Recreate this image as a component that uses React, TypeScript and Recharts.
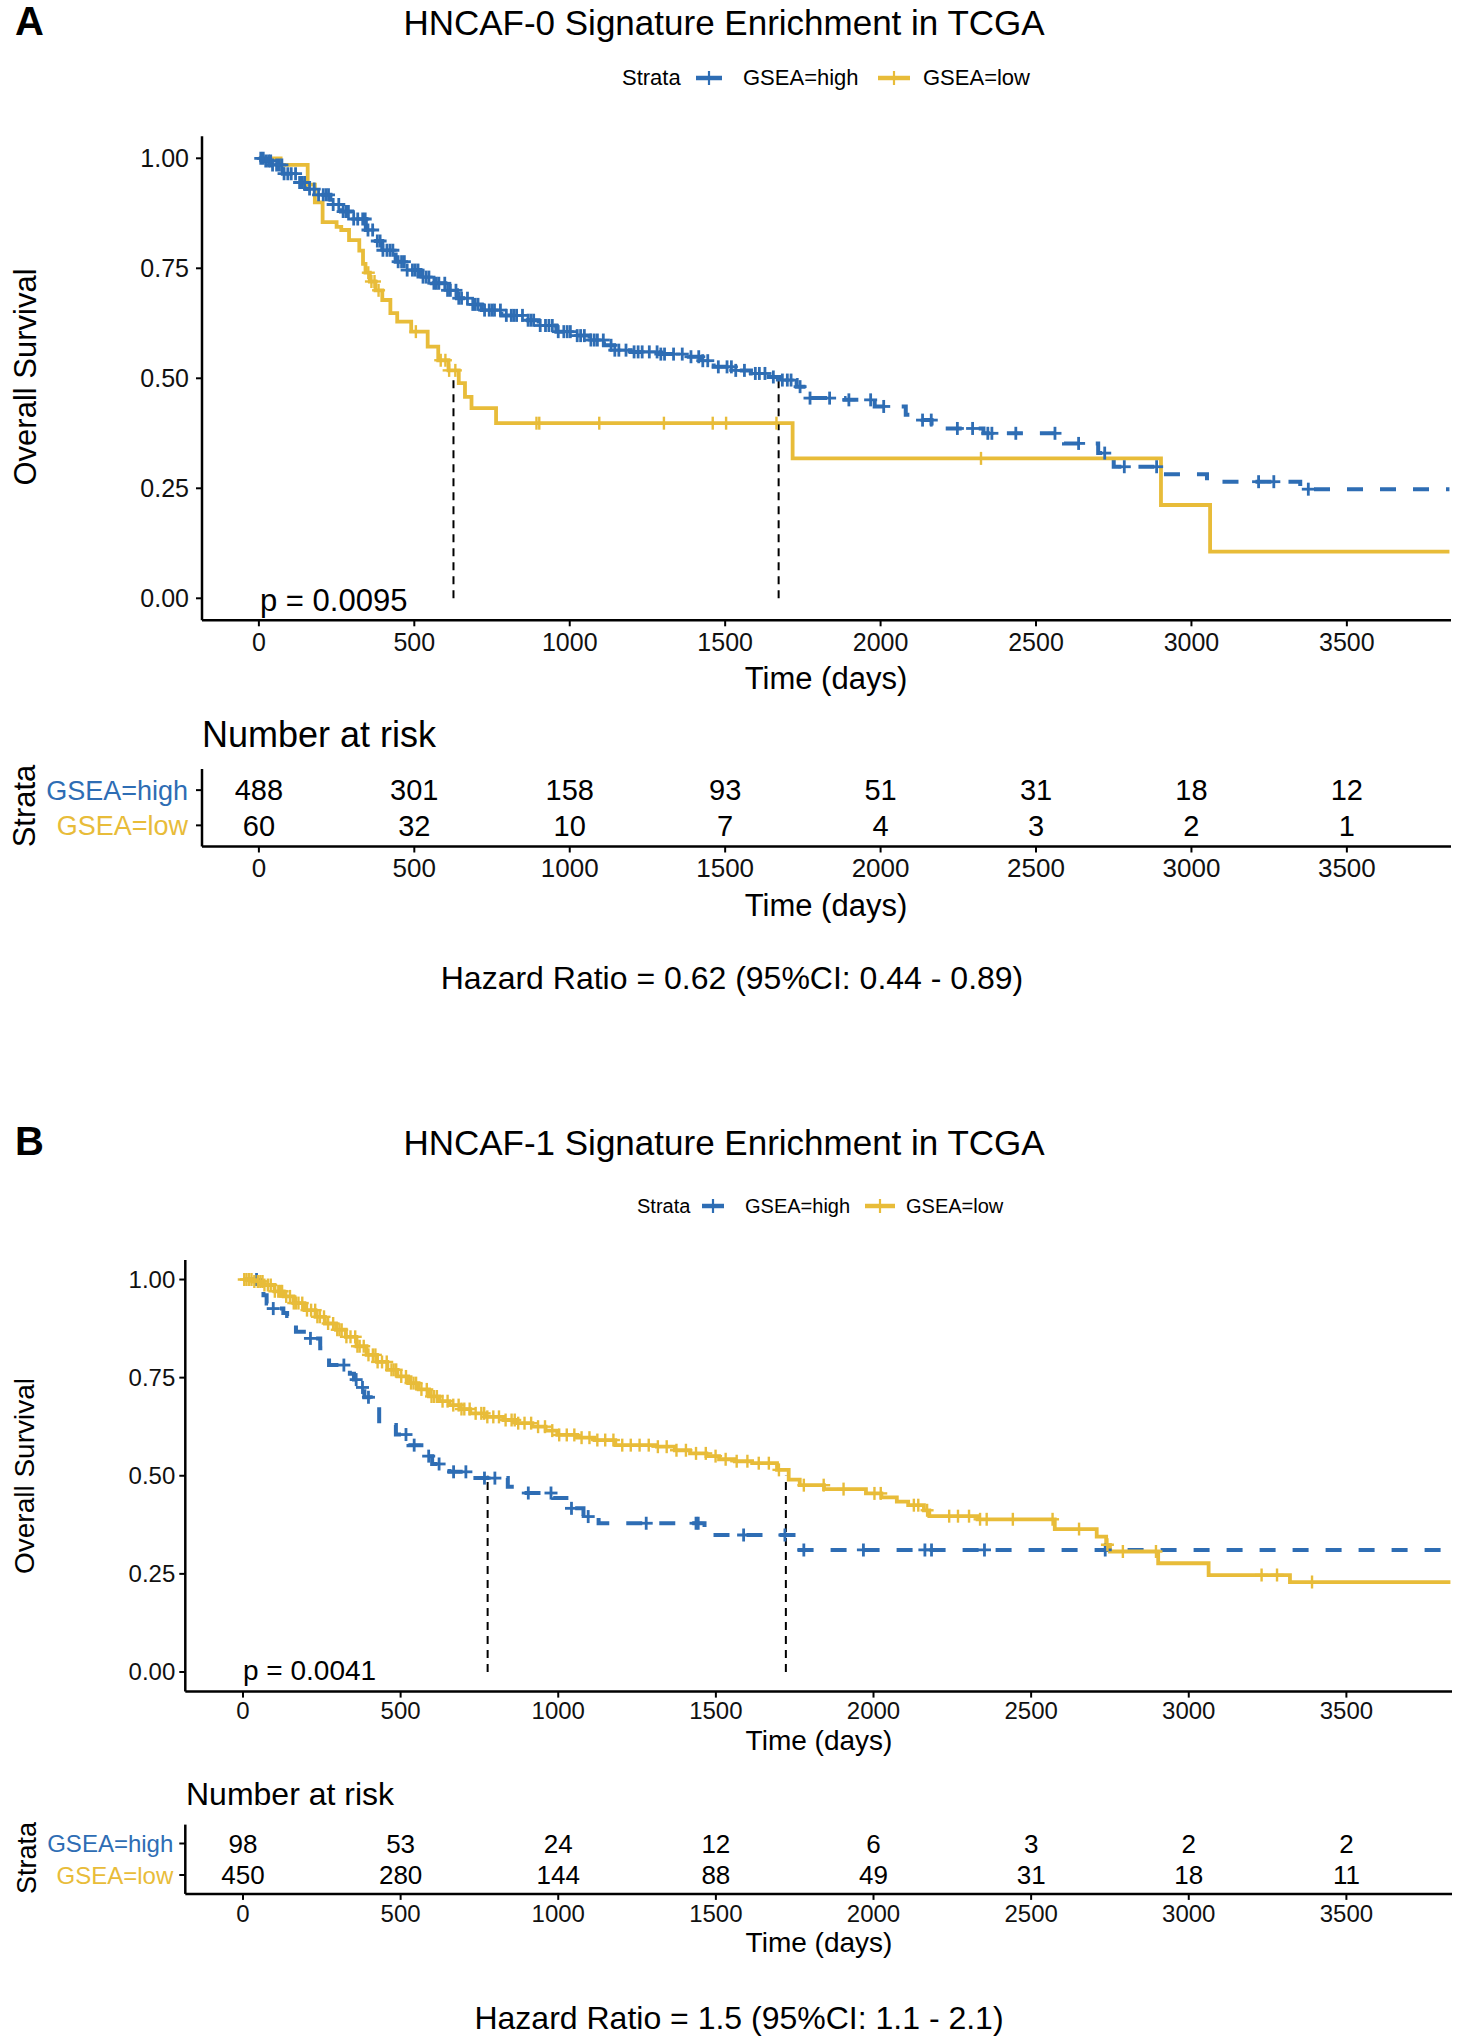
import React from 'react';
import { ComposedChart, Line, Scatter, XAxis, YAxis, ReferenceLine } from 'recharts';

type Pt = [number, number];

const FONT = '"Liberation Sans", Arial, Helvetica, sans-serif';
const BLUE = '#2E6DB4';
const GOLD = '#E8BC39';
const PAGE_W = 1471;
const X_DOMAIN: [number, number] = [-183, 3835];

const timeTicks = [0, 500, 1000, 1500, 2000, 2500, 3000, 3500];
const survTicks = [0, 0.25, 0.5, 0.75, 1];

// ---- panel A : HNCAF-0 ----
const aHighCurve: Pt[] = [
  [0, 1], [15, 0.994], [40, 0.985], [77, 0.965], [120, 0.945], [150, 0.93], [183, 0.917],
  [230, 0.895], [264, 0.879], [300, 0.862], [344, 0.837], [370, 0.812], [397, 0.791],
  [440, 0.765], [476, 0.746], [520, 0.73], [556, 0.716], [600, 0.7], [637, 0.682],
  [680, 0.668], [717, 0.655], [780, 0.643], [849, 0.632], [900, 0.62], [957, 0.606],
  [1010, 0.597], [1064, 0.587], [1110, 0.575], [1143, 0.564], [1196, 0.56], [1290, 0.555],
  [1383, 0.549], [1420, 0.54], [1463, 0.526], [1530, 0.518], [1583, 0.511], [1640, 0.503],
  [1675, 0.496], [1730, 0.481], [1770, 0.455], [1884, 0.451], [1981, 0.436], [2081, 0.417],
  [2135, 0.405], [2164, 0.386], [2331, 0.375], [2590, 0.352], [2700, 0.33], [2745, 0.318],
  [2750, 0.299], [2895, 0.282], [3050, 0.265], [3350, 0.248], [3830, 0.248],
];
const aLowCurve: Pt[] = [
  [0, 1], [70, 0.985], [157, 0.94], [180, 0.9], [205, 0.855], [250, 0.844], [265, 0.837],
  [290, 0.814], [323, 0.79], [335, 0.76], [343, 0.74], [357, 0.72], [375, 0.7], [397, 0.678],
  [423, 0.648], [445, 0.629], [490, 0.606], [543, 0.572], [577, 0.541], [610, 0.518],
  [643, 0.489], [663, 0.458], [684, 0.432], [763, 0.398], [1717, 0.318], [2902, 0.212],
  [3060, 0.106], [3830, 0.106],
];
const aHighCensor = [
  6, 14, 22, 31, 38, 44, 57, 66, 74, 81, 93, 104, 118, 131, 139, 147, 163, 178, 192, 207,
  216, 224, 239, 257, 271, 280, 288, 305, 318, 334, 342, 351, 366, 381, 390, 399, 412, 422,
  431, 448, 459, 468, 477, 494, 503, 512, 528, 538, 547, 563, 571, 579, 598, 607, 616, 634,
  643, 652, 671, 688, 696, 705, 726, 741, 750, 758, 777, 796, 812, 820, 829, 848, 866, 875,
  884, 905, 922, 933, 944, 963, 981, 992, 1002, 1024, 1035, 1047, 1068, 1079, 1089, 1108,
  1133, 1145, 1158, 1181, 1207, 1220, 1233, 1256, 1281, 1293, 1305, 1334, 1362, 1390, 1415,
  1428, 1444, 1478, 1506, 1520, 1534, 1562, 1597, 1610, 1628, 1655, 1684, 1700, 1712, 1741,
  1773, 1836, 1898, 1968, 2010, 2135, 2163, 2247, 2296, 2345, 2358, 2435, 2561, 2637, 2721,
  2784, 2888, 3216, 3265, 3376,
];
const aLowCensor = [352, 362, 372, 385, 505, 585, 600, 612, 632, 893, 902, 1095, 1303, 1460, 1503, 1665, 2323];
const aMedians = [626, 1672];
const aRiskHigh = [488, 301, 158, 93, 51, 31, 18, 12];
const aRiskLow = [60, 32, 10, 7, 4, 3, 2, 1];

// ---- panel B : HNCAF-1 ----
const bHighCurve: Pt[] = [
  [0, 1], [56, 0.986], [65, 0.96], [75, 0.939], [90, 0.926], [128, 0.915], [140, 0.907],
  [168, 0.867], [193, 0.85], [245, 0.825], [273, 0.782], [339, 0.76], [352, 0.745],
  [365, 0.725], [385, 0.7], [405, 0.68], [432, 0.629], [485, 0.605], [525, 0.578],
  [578, 0.55], [600, 0.53], [655, 0.51], [708, 0.494], [840, 0.472], [879, 0.456],
  [984, 0.443], [1037, 0.417], [1080, 0.396], [1128, 0.379], [1464, 0.349], [1755, 0.311],
  [3830, 0.311],
];
const bLowCurve: Pt[] = [
  [0, 1], [30, 0.995], [63, 0.986], [100, 0.97], [129, 0.957], [160, 0.94], [195, 0.922],
  [230, 0.905], [260, 0.888], [295, 0.872], [326, 0.854], [360, 0.83], [392, 0.808],
  [425, 0.79], [458, 0.77], [490, 0.753], [524, 0.736], [557, 0.72], [590, 0.702],
  [622, 0.69], [655, 0.68], [690, 0.67], [721, 0.659], [770, 0.65], [826, 0.642],
  [870, 0.634], [918, 0.625], [960, 0.615], [997, 0.604], [1060, 0.597], [1115, 0.591],
  [1181, 0.578], [1313, 0.574], [1370, 0.565], [1418, 0.557], [1470, 0.55], [1510, 0.542],
  [1560, 0.537], [1615, 0.532], [1694, 0.515], [1731, 0.49], [1766, 0.476], [1843, 0.466],
  [1976, 0.455], [2025, 0.445], [2074, 0.434], [2110, 0.425], [2160, 0.412], [2177, 0.397],
  [2330, 0.389], [2575, 0.364], [2708, 0.345], [2738, 0.324], [2750, 0.307], [2903, 0.277],
  [3063, 0.247], [3321, 0.229], [3830, 0.229],
];
const bHighCensor = [
  43, 96, 214, 320, 359, 379, 398, 517, 543, 589, 622, 668, 707, 766, 799, 905, 977, 1042,
  1095, 1279, 1437, 1444, 1588, 1719, 1779, 1968, 2163, 2184, 2352, 2735,
];
const bLowCensor = [
  4, 11, 19, 27, 36, 47, 55, 62, 68, 79, 88, 101, 112, 118, 124, 137, 149, 161, 168, 176,
  188, 203, 216, 229, 236, 244, 257, 270, 286, 299, 306, 313, 328, 341, 356, 363, 370, 383,
  398, 412, 420, 427, 441, 456, 471, 478, 486, 502, 517, 533, 541, 549, 566, 583, 598, 606,
  615, 633, 649, 667, 684, 693, 702, 719, 738, 756, 765, 775, 794, 812, 833, 852, 862, 873,
  893, 914, 936, 958, 981, 1003, 1027, 1051, 1074, 1099, 1124, 1149, 1175, 1203, 1230, 1258,
  1287, 1316, 1344, 1375, 1405, 1437, 1468, 1499, 1531, 1566, 1600, 1636, 1668, 1700, 1779,
  1842, 1905, 2003, 2023, 2128, 2142, 2170, 2240, 2268, 2303, 2338, 2359, 2442, 2568, 2652,
  2742, 2791, 2896, 3231, 3280, 3391,
];
const bMedians = [776, 1722];
const bRiskHigh = [98, 53, 24, 12, 6, 3, 2, 2];
const bRiskLow = [450, 280, 144, 88, 49, 31, 18, 11];

// ---- helpers ----
const toRows = (pts: Pt[]) => pts.map(([t, s]) => ({ t, s }));
const survAt = (pts: Pt[], t: number) => {
  let s = pts[0][1];
  for (const [pt, ps] of pts) {
    if (pt <= t) s = ps;
    else break;
  }
  return s;
};
const censorRows = (pts: Pt[], times: number[]) => times.map((t) => ({ t, s: survAt(pts, t) }));
const riskRows = (counts: number[], row: number) => timeTicks.map((t, i) => ({ t, row, n: counts[i] }));

const plusShape = (color: string, half: number, sw: number) => (props: any) => {
  const { cx, cy } = props;
  if (cx == null || cy == null) return <g />;
  return (
    <g>
      <line x1={cx - half} x2={cx + half} y1={cy} y2={cy} stroke={color} strokeWidth={sw} />
      <line x1={cx} x2={cx} y1={cy - half} y2={cy + half} stroke={color} strokeWidth={sw} />
    </g>
  );
};

const riskText = (fontSize: number) => (props: any) => {
  const { cx, cy, payload } = props;
  return (
    <text x={cx} y={cy} dy="0.355em" textAnchor="middle" fontSize={fontSize} fontFamily={FONT} fill="#000">
      {payload.n}
    </text>
  );
};

const strataTick = (fontSize: number) => (props: any) => {
  const { x, y, payload } = props;
  const high = payload.value === 2;
  return (
    <text x={x} y={y} dy="0.355em" textAnchor="end" fontSize={fontSize} fontFamily={FONT} fill={high ? BLUE : GOLD}>
      {high ? 'GSEA=high' : 'GSEA=low'}
    </text>
  );
};

const axisLine = { stroke: '#000', strokeWidth: 2.5 };
const tickLine = { stroke: '#000', strokeWidth: 2 };

interface KMProps {
  top: number;
  height: number;
  plotTop: number;
  plotBottom: number;
  left: number;
  right: number;
  high: Pt[];
  low: Pt[];
  highCensor: number[];
  lowCensor: number[];
  medians: number[];
  tickFont: number;
  xGap: number;
  yGap: number;
}

const KMPlot = (p: KMProps) => {
  const xh = 40;
  const margin = {
    top: p.plotTop - p.top,
    right: PAGE_W - p.right,
    bottom: p.top + p.height - p.plotBottom - xh,
    left: 0,
  };
  const tick = { fill: '#111', fontSize: p.tickFont, fontFamily: FONT };
  return (
    <div style={{ position: 'absolute', left: 0, top: p.top }}>
      <ComposedChart width={PAGE_W} height={p.height} margin={margin}>
        <XAxis
          type="number"
          dataKey="t"
          domain={X_DOMAIN}
          ticks={timeTicks}
          interval={0}
          allowDataOverflow
          height={xh}
          tick={tick}
          tickSize={6}
          tickMargin={p.xGap}
          axisLine={axisLine}
          tickLine={tickLine}
        />
        <YAxis
          type="number"
          dataKey="s"
          domain={[-0.05, 1.05]}
          ticks={survTicks}
          interval={0}
          allowDataOverflow
          width={p.left}
          tick={tick}
          tickSize={6}
          tickMargin={p.yGap}
          tickFormatter={(v: number) => v.toFixed(2)}
          axisLine={axisLine}
          tickLine={tickLine}
        />
        <Line
          data={toRows(p.high)}
          dataKey="s"
          type="stepAfter"
          stroke={BLUE}
          strokeWidth={4}
          strokeDasharray="16 17"
          dot={false}
          activeDot={false}
          isAnimationActive={false}
        />
        <Line
          data={toRows(p.low)}
          dataKey="s"
          type="stepAfter"
          stroke={GOLD}
          strokeWidth={3.8}
          dot={false}
          activeDot={false}
          isAnimationActive={false}
        />
        <Scatter data={censorRows(p.high, p.highCensor)} dataKey="s" shape={plusShape(BLUE, 6.5, 2.8)} isAnimationActive={false} />
        <Scatter data={censorRows(p.low, p.lowCensor)} dataKey="s" shape={plusShape(GOLD, 6.5, 2.4)} isAnimationActive={false} />
        {p.medians.map((m) => (
          <ReferenceLine
            key={m}
            segment={[{ x: m, y: 0 }, { x: m, y: 0.5 }]}
            stroke="#000"
            strokeWidth={2}
            strokeDasharray="8 6"
          />
        ))}
      </ComposedChart>
    </div>
  );
};

interface RiskProps {
  top: number;
  height: number;
  plotTop: number;
  plotBottom: number;
  left: number;
  right: number;
  highCounts: number[];
  lowCounts: number[];
  numFont: number;
  labelFont: number;
  tickFont: number;
  xGap: number;
  yGap: number;
}

const RiskTable = (p: RiskProps) => {
  const xh = 40;
  const margin = {
    top: p.plotTop - p.top,
    right: PAGE_W - p.right,
    bottom: p.top + p.height - p.plotBottom - xh,
    left: 0,
  };
  return (
    <div style={{ position: 'absolute', left: 0, top: p.top }}>
      <ComposedChart width={PAGE_W} height={p.height} margin={margin}>
        <XAxis
          type="number"
          dataKey="t"
          domain={X_DOMAIN}
          ticks={timeTicks}
          interval={0}
          allowDataOverflow
          height={xh}
          tick={{ fill: '#111', fontSize: p.tickFont, fontFamily: FONT }}
          tickSize={6}
          tickMargin={p.xGap}
          axisLine={axisLine}
          tickLine={tickLine}
        />
        <YAxis
          type="number"
          dataKey="row"
          domain={[0.4, 2.6]}
          ticks={[1, 2]}
          interval={0}
          allowDataOverflow
          width={p.left}
          tick={strataTick(p.labelFont)}
          tickSize={6}
          tickMargin={p.yGap}
          axisLine={axisLine}
          tickLine={tickLine}
        />
        <Scatter data={riskRows(p.highCounts, 2)} dataKey="row" shape={riskText(p.numFont)} isAnimationActive={false} />
        <Scatter data={riskRows(p.lowCounts, 1)} dataKey="row" shape={riskText(p.numFont)} isAnimationActive={false} />
      </ComposedChart>
    </div>
  );
};

const Txt = ({
  x, y, size, children, anchor = 'middle', color = '#000', weight = 400, rotate = false,
}: {
  x: number; y: number; size: number; children: React.ReactNode;
  anchor?: 'start' | 'middle'; color?: string; weight?: number; rotate?: boolean;
}) => (
  <div
    style={{
      position: 'absolute',
      left: x,
      top: y,
      fontSize: size,
      lineHeight: 1,
      fontWeight: weight,
      color,
      whiteSpace: 'nowrap',
      transform: `translate(${anchor === 'middle' ? '-50%' : '0'}, -50%)${rotate ? ' rotate(-90deg)' : ''}`,
    }}
  >
    {children}
  </div>
);

const LegendKey = ({ x, y, w, color }: { x: number; y: number; w: number; color: string }) => (
  <svg style={{ position: 'absolute', left: x, top: y - 8 }} width={w} height={16}>
    <line x1={0} x2={w} y1={8} y2={8} stroke={color} strokeWidth={4.5} />
    <line x1={w / 2} x2={w / 2} y1={1} y2={15} stroke={color} strokeWidth={2.2} />
  </svg>
);

export default function App() {
  return (
    <div
      style={{
        position: 'absolute',
        left: 0,
        top: 0,
        width: PAGE_W,
        height: 2040,
        background: '#fff',
        overflow: 'hidden',
        fontFamily: FONT,
      }}
    >
      {/* ---------- panel A ---------- */}
      <Txt x={15} y={21} size={40} weight={700} anchor="start">A</Txt>
      <Txt x={724} y={22} size={35}>HNCAF-0 Signature Enrichment in TCGA</Txt>
      <Txt x={622} y={78} size={22} anchor="start">Strata</Txt>
      <LegendKey x={696} y={78} w={26} color={BLUE} />
      <Txt x={743} y={78} size={22} anchor="start">GSEA=high</Txt>
      <LegendKey x={878} y={78} w={32} color={GOLD} />
      <Txt x={923} y={78} size={22} anchor="start">GSEA=low</Txt>

      <KMPlot
        top={100}
        height={600}
        plotTop={136.3}
        plotBottom={620.3}
        left={202}
        right={1451}
        high={aHighCurve}
        low={aLowCurve}
        highCensor={aHighCensor}
        lowCensor={aLowCensor}
        medians={aMedians}
        tickFont={25}
        xGap={7}
        yGap={7}
      />
      <Txt x={25} y={377} size={31} rotate>Overall Survival</Txt>
      <Txt x={826} y={678} size={31}>Time (days)</Txt>
      <Txt x={260} y={600} size={31} anchor="start">p = 0.0095</Txt>

      <Txt x={202} y={735} size={36} anchor="start">Number at risk</Txt>
      <RiskTable
        top={740}
        height={160}
        plotTop={769}
        plotBottom={846.5}
        left={202}
        right={1451}
        highCounts={aRiskHigh}
        lowCounts={aRiskLow}
        numFont={29}
        labelFont={27}
        tickFont={26}
        xGap={6}
        yGap={8}
      />
      <Txt x={24} y={806} size={31} rotate>Strata</Txt>
      <Txt x={826} y={905} size={31}>Time (days)</Txt>
      <Txt x={732} y={978} size={32}>Hazard Ratio = 0.62 (95%CI: 0.44 - 0.89)</Txt>

      {/* ---------- panel B ---------- */}
      <Txt x={15} y={1141} size={40} weight={700} anchor="start">B</Txt>
      <Txt x={724} y={1142} size={35}>HNCAF-1 Signature Enrichment in TCGA</Txt>
      <Txt x={637} y={1206} size={20} anchor="start">Strata</Txt>
      <LegendKey x={702} y={1206} w={22} color={BLUE} />
      <Txt x={745} y={1206} size={20} anchor="start">GSEA=high</Txt>
      <LegendKey x={865} y={1206} w={30} color={GOLD} />
      <Txt x={906} y={1206} size={20} anchor="start">GSEA=low</Txt>

      <KMPlot
        top={1200}
        height={560}
        plotTop={1259.9}
        plotBottom={1691.6}
        left={185.3}
        right={1452}
        high={bHighCurve}
        low={bLowCurve}
        highCensor={bHighCensor}
        lowCensor={bLowCensor}
        medians={bMedians}
        tickFont={24}
        xGap={4}
        yGap={4}
      />
      <Txt x={25} y={1476} size={28} rotate>Overall Survival</Txt>
      <Txt x={819} y={1741} size={28}>Time (days)</Txt>
      <Txt x={243} y={1671} size={28} anchor="start">p = 0.0041</Txt>

      <Txt x={186} y={1794} size={32} anchor="start">Number at risk</Txt>
      <RiskTable
        top={1800}
        height={140}
        plotTop={1824.6}
        plotBottom={1893.9}
        left={185.3}
        right={1452}
        highCounts={bRiskHigh}
        lowCounts={bRiskLow}
        numFont={26}
        labelFont={24}
        tickFont={24}
        xGap={5}
        yGap={6}
      />
      <Txt x={27} y={1858} size={27} rotate>Strata</Txt>
      <Txt x={819} y={1943} size={28}>Time (days)</Txt>
      <Txt x={739} y={2018} size={32}>Hazard Ratio = 1.5 (95%CI: 1.1 - 2.1)</Txt>
    </div>
  );
}
